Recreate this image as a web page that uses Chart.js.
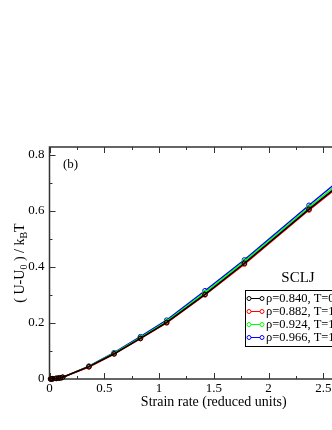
<!DOCTYPE html>
<html>
<head>
<meta charset="utf-8">
<script src="https://cdn.jsdelivr.net/npm/chart.js@4.4.1/dist/chart.umd.min.js"></script>
<style>
  html, body { margin: 0; padding: 0; background: #fff; overflow: hidden; }
  #wrap { position: relative; width: 420px; height: 430px; }
</style>
</head>
<body>
<div id="wrap"><canvas id="chart-container"></canvas></div>
<script>
// strain rates shared by all four state points
const strainRate = [0.01, 0.02, 0.03, 0.06, 0.08, 0.1, 0.12, 0.36, 0.59, 0.83, 1.07, 1.42, 1.78, 2.37, 2.96];

const rho0840 = [0.0002, 0.0005, 0.001, 0.002, 0.003, 0.004, 0.006, 0.044, 0.090, 0.145, 0.202, 0.302, 0.413, 0.606, 0.790];
const rho0882 = [0.0002, 0.0005, 0.001, 0.002, 0.003, 0.004, 0.006, 0.043, 0.089, 0.144, 0.200, 0.300, 0.410, 0.603, 0.787];
const rho0924 = [0.0002, 0.0005, 0.001, 0.002, 0.003, 0.004, 0.006, 0.045, 0.092, 0.148, 0.206, 0.308, 0.420, 0.613, 0.800];
const rho0966 = [0.0002, 0.0005, 0.001, 0.002, 0.003, 0.004, 0.006, 0.046, 0.094, 0.151, 0.210, 0.315, 0.425, 0.620, 0.810];

const seriesLabels = ['ρ=0.840, T=0.800', 'ρ=0.882, T=1.000', 'ρ=0.924, T=1.240', 'ρ=0.966, T=1.530'];
const seriesColors = ['#000000', '#ff0000', '#00ff00', '#0000ff'];

const xMajorTicks = [0, 0.5, 1, 1.5, 2, 2.5, 3];
const xMinorTicks = [0.25, 0.75, 1.25, 1.75, 2.25, 2.75];
const yMajorTicks = [0, 0.2, 0.4, 0.6, 0.8];
const yMinorTicks = [0.1, 0.3, 0.5, 0.7];

const panelLabel = '(b)';
const legendTitle = 'SCLJ';
const xTitle = 'Strain rate (reduced units)';

const SERIF = '"Liberation Serif", "DejaVu Serif", serif';

function toPoints(ys) {
  return strainRate.map((x, i) => ({ x: x, y: ys[i] }));
}

const frame = {
  id: 'frame',
  beforeDatasetsDraw(chart) {
    const { ctx, chartArea: a, scales: { x, y } } = chart;
    ctx.save();
    ctx.strokeStyle = '#333';
    ctx.lineWidth = 1.5;
    ctx.strokeRect(a.left, a.top, a.right - a.left, a.bottom - a.top);
    ctx.lineWidth = 1;
    ctx.beginPath();
    const xt = (list, len) => list.forEach(v => {
      const px = Math.round(x.getPixelForValue(v)) + 0.5;
      ctx.moveTo(px, a.bottom); ctx.lineTo(px, a.bottom - len);
      ctx.moveTo(px, a.top); ctx.lineTo(px, a.top + len);
    });
    const yt = (list, len) => list.forEach(v => {
      const py = Math.round(y.getPixelForValue(v)) + 0.5;
      ctx.moveTo(a.left, py); ctx.lineTo(a.left + len, py);
      ctx.moveTo(a.right, py); ctx.lineTo(a.right - len, py);
    });
    xt(xMajorTicks, 6); xt(xMinorTicks, 3);
    yt(yMajorTicks, 6); yt(yMinorTicks, 3);
    ctx.stroke();
    ctx.restore();
  },
  afterDraw(chart) {
    const { ctx, chartArea: a } = chart;
    ctx.save();
    ctx.fillStyle = '#000';
    ctx.textBaseline = 'middle';

    // panel label
    ctx.font = '13px ' + SERIF;
    ctx.textAlign = 'left';
    ctx.fillText(panelLabel, 63, 165);

    // x title
    ctx.font = '14px ' + SERIF;
    ctx.textAlign = 'center';
    ctx.fillText(xTitle, (a.left + a.right) / 2, 402);

    // y title with subscripts
    ctx.translate(20, 263);
    ctx.rotate(-Math.PI / 2);
    const parts = [['( U-U', 14, 0], ['0', 10, 4], [' ) / k', 14, 0], ['B', 10, 4], ['T', 14, 0]];
    let total = 0;
    parts.forEach(p => { ctx.font = p[1] + 'px ' + SERIF; total += ctx.measureText(p[0]).width; });
    let cx = -total / 2;
    ctx.textAlign = 'left';
    parts.forEach(p => {
      ctx.font = p[1] + 'px ' + SERIF;
      ctx.fillText(p[0], cx, p[2]);
      cx += ctx.measureText(p[0]).width;
    });
    ctx.restore();

    // legend
    ctx.save();
    ctx.fillStyle = '#000';
    ctx.textBaseline = 'middle';
    ctx.font = '15px ' + SERIF;
    ctx.textAlign = 'center';
    ctx.fillText(legendTitle, 298, 278);
    const bx = 245.5, by = 290.5, rowH = 13;
    ctx.strokeStyle = '#000';
    ctx.lineWidth = 1;
    ctx.strokeRect(bx, by, 160, rowH * seriesLabels.length + 4);
    ctx.font = '12.5px ' + SERIF;
    ctx.textAlign = 'left';
    seriesLabels.forEach((lab, i) => {
      const ry = by + 8 + i * rowH;
      ctx.strokeStyle = seriesColors[i];
      ctx.beginPath();
      ctx.moveTo(251, ry); ctx.lineTo(260, ry);
      ctx.stroke();
      [249, 262].forEach(cxp => {
        ctx.beginPath(); ctx.arc(cxp, ry, 2, 0, Math.PI * 2); ctx.stroke();
      });
      ctx.fillText(lab, 266, ry);
    });
    ctx.restore();
  }
};

const series = [rho0840, rho0882, rho0924, rho0966];

new Chart(document.getElementById('chart-container'), {
  type: 'scatter',
  data: {
    datasets: series.map((ys, i) => ({
      label: seriesLabels[i],
      data: toPoints(ys),
      showLine: true,
      borderColor: seriesColors[i],
      backgroundColor: 'rgba(0,0,0,0)',
      borderWidth: 1.5,
      pointRadius: 2.3,
      pointBorderWidth: 1,
      pointBorderColor: seriesColors[i],
      pointBackgroundColor: 'rgba(0,0,0,0)',
      clip: 6
    }))
  },
  options: {
    responsive: true,
    maintainAspectRatio: false,
    animation: false,
    events: [],
    layout: { padding: { top: 147, left: 0, right: 42, bottom: 31 } },
    plugins: { legend: { display: false }, tooltip: { enabled: false } },
    scales: {
      x: {
        type: 'linear', min: 0, max: 3,
        afterFit(scale) { scale.height = 20; },
        grid: { display: false, drawTicks: false },
        border: { display: false },
        ticks: {
          stepSize: 0.5, includeBounds: false, padding: 2, maxRotation: 0, autoSkip: false,
          color: '#000', font: { family: SERIF, size: 13 },
          callback: v => String(+v.toFixed(2))
        }
      },
      y: {
        type: 'linear', min: 0, max: 0.828,
        afterFit(scale) { scale.width = 49.5; },
        grid: { display: false, drawTicks: false },
        border: { display: false },
        ticks: {
          stepSize: 0.2, includeBounds: false, padding: 5, autoSkip: false,
          color: '#000', font: { family: SERIF, size: 13 },
          callback: v => String(+v.toFixed(2))
        }
      }
    }
  },
  plugins: [frame]
});
</script>
</body>
</html>
